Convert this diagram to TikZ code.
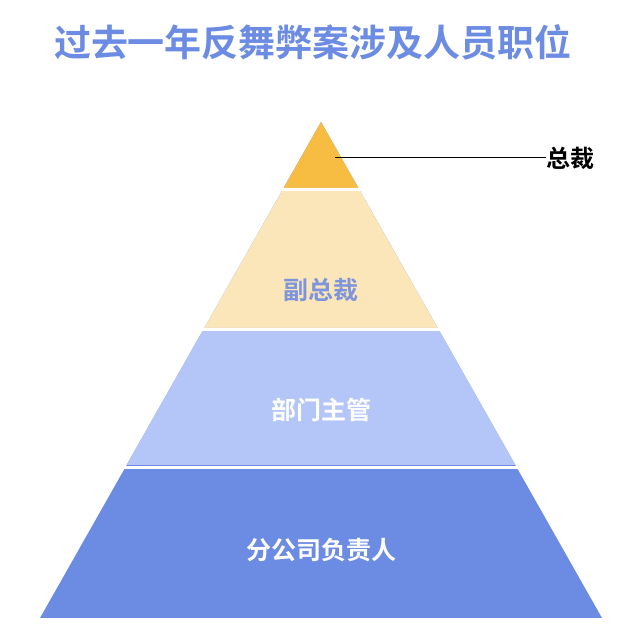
\documentclass[tikz,border=0pt]{standalone}
\usepackage{fontspec}
\newfontfamily\cjk{Noto Sans CJK SC Bold}
\definecolor{cA}{HTML}{F7BC42}
\definecolor{cB}{HTML}{FAE6B8}
\definecolor{cC}{HTML}{B3C6F7}
\definecolor{cD}{HTML}{6C8CE3}
\definecolor{tB}{HTML}{7E95DC}
\begin{document}
\begin{tikzpicture}[x=1pt,y=-1pt,
  layer/.style={draw=white,line width=3pt,line join=miter},
  lbl/.style={font=\cjk\fontsize{25}{28}\selectfont,inner sep=0pt}]
\useasboundingbox (0,0) rectangle (641,636);
\fill[cD] (321,122) -- (602,618) -- (40,618) -- cycle;
\fill[cA] (321,122) -- (358.4,188) -- (283.6,188) -- cycle;
\fill[cB] (358.4,188) -- (437.8,328) -- (204.2,328) -- (283.6,188) -- cycle;
\fill[cC] (437.8,328) -- (515.5,465) -- (126.5,465) -- (204.2,328) -- cycle;
\draw[white,line width=3pt] (270,189.5) -- (372,189.5);
\draw[white,line width=3pt] (190,329.5) -- (452,329.5);
\draw[white,line width=3pt] (110,468) -- (532,468);
\node[font=\cjk\fontsize{37}{40}\selectfont,text=cD,inner sep=0pt] (title) at (313,42) {过去一年反舞弊案涉及人员职位};
\node[lbl,text=tB] (l2) at (321,290) {副总裁};
\node[lbl,text=white] (l3) at (321,410) {部门主管};
\node[lbl,text=white] (l4) at (321,550) {分公司负责人};
\coordinate (p) at (335,158);
\node[lbl,text=black,font=\cjk\fontsize{24}{28}\selectfont] (top) at (570,158) {总裁};
\draw[line width=1pt] (p) -- (top.west) ++(-12,0);
\end{tikzpicture}
\end{document}
